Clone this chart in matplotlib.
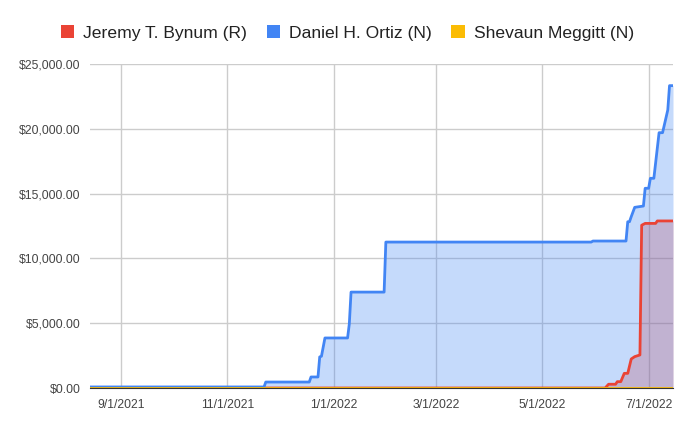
import matplotlib.pyplot as plt
import matplotlib.dates as mdates
from matplotlib.ticker import FuncFormatter
from matplotlib.patches import Patch
import pandas as pd

plt.rcParams['font.family'] = ['Liberation Sans', 'DejaVu Sans']

# Cumulative contributions per candidate
bynum_dates = ['2021-08-14', '2022-06-06', '2022-06-08', '2022-06-12', '2022-06-13',
               '2022-06-15', '2022-06-17', '2022-06-19', '2022-06-21', '2022-06-23',
               '2022-06-26', '2022-06-27', '2022-06-29', '2022-07-05', '2022-07-06',
               '2022-07-15']
bynum_vals = [0, 0, 290, 290, 490, 490, 1130, 1130, 2240, 2420,
              2550, 12560, 12700, 12700, 12890, 12890]

ortiz_dates = ['2021-08-14', '2021-11-22', '2021-11-23', '2021-12-18', '2021-12-19',
               '2021-12-23', '2021-12-24', '2021-12-25', '2021-12-27', '2022-01-09',
               '2022-01-10', '2022-01-11', '2022-01-30', '2022-01-31', '2022-05-29',
               '2022-05-30', '2022-06-18', '2022-06-19', '2022-06-20', '2022-06-21',
               '2022-06-23', '2022-06-28', '2022-06-29', '2022-07-01', '2022-07-02',
               '2022-07-04', '2022-07-07', '2022-07-09', '2022-07-12', '2022-07-13',
               '2022-07-15']
ortiz_vals = [80, 80, 460, 460, 850, 850, 2400, 2450, 3860, 3860,
              4940, 7400, 7400, 11260, 11260, 11340, 11340, 12830, 12830, 13220,
              13940, 14040, 15410, 15410, 16180, 16180, 19700, 19700, 21450, 23330,
              23330]

meggitt_dates = ['2021-08-14', '2022-07-15']
meggitt_vals = [0, 0]

names = ['Jeremy T. Bynum (R)', 'Daniel H. Ortiz (N)', 'Shevaun Meggitt (N)']
colors = ['#ea4335', '#4285f4', '#fbbc04']
tick_dates = ['2021-09-01', '2021-11-01', '2022-01-01', '2022-03-01', '2022-05-01', '2022-07-01']

fig = plt.figure(figsize=(6.95, 4.3), dpi=100)
ax = fig.add_axes([90 / 695, 1 - 388 / 430, 583 / 695, 324 / 430])

series = [(bynum_dates, bynum_vals), (ortiz_dates, ortiz_vals), (meggitt_dates, meggitt_vals)]
for (d, v), c in zip(series, colors):
    d = pd.to_datetime(d)
    ax.fill_between(d, v, 0, color=c, alpha=0.3, linewidth=0, zorder=2)
for (d, v), c in zip(series, colors):
    d = pd.to_datetime(d)
    ax.plot(d, v, color=c, linewidth=2, zorder=3, solid_joinstyle='round')

ax.set_xlim(pd.Timestamp('2021-08-14'), pd.Timestamp('2022-07-15'))
ax.set_ylim(0, 25000)
ax.set_yticks(range(0, 25001, 5000))
ax.yaxis.set_major_formatter(FuncFormatter(lambda v, p: '${:,.2f}'.format(v)))
ax.set_xticks(pd.to_datetime(tick_dates))
ax.xaxis.set_major_formatter(FuncFormatter(
    lambda v, p: '{d.month}/{d.day}/{d.year}'.format(d=mdates.num2date(v))))

ax.grid(True, color='#cccccc', linewidth=1, zorder=1)
for s in ['top', 'right', 'left']:
    ax.spines[s].set_visible(False)
ax.spines['bottom'].set_color('#333333')
ax.spines['bottom'].set_zorder(4)
ax.tick_params(axis='both', length=0, labelsize=8.8, colors='#444444')
ax.tick_params(axis='y', pad=7)
ax.tick_params(axis='x', pad=8)

handles = [Patch(facecolor=c, edgecolor='none') for c in colors]
fig.legend(handles, names, loc='center', bbox_to_anchor=(0.5, 1 - 33 / 430), ncol=3,
           frameon=False, fontsize=12.6, handlelength=0.75, handleheight=0.75,
           handletextpad=0.55, columnspacing=1.1, labelcolor='#222222')

fig.savefig('out.png', dpi=100)
